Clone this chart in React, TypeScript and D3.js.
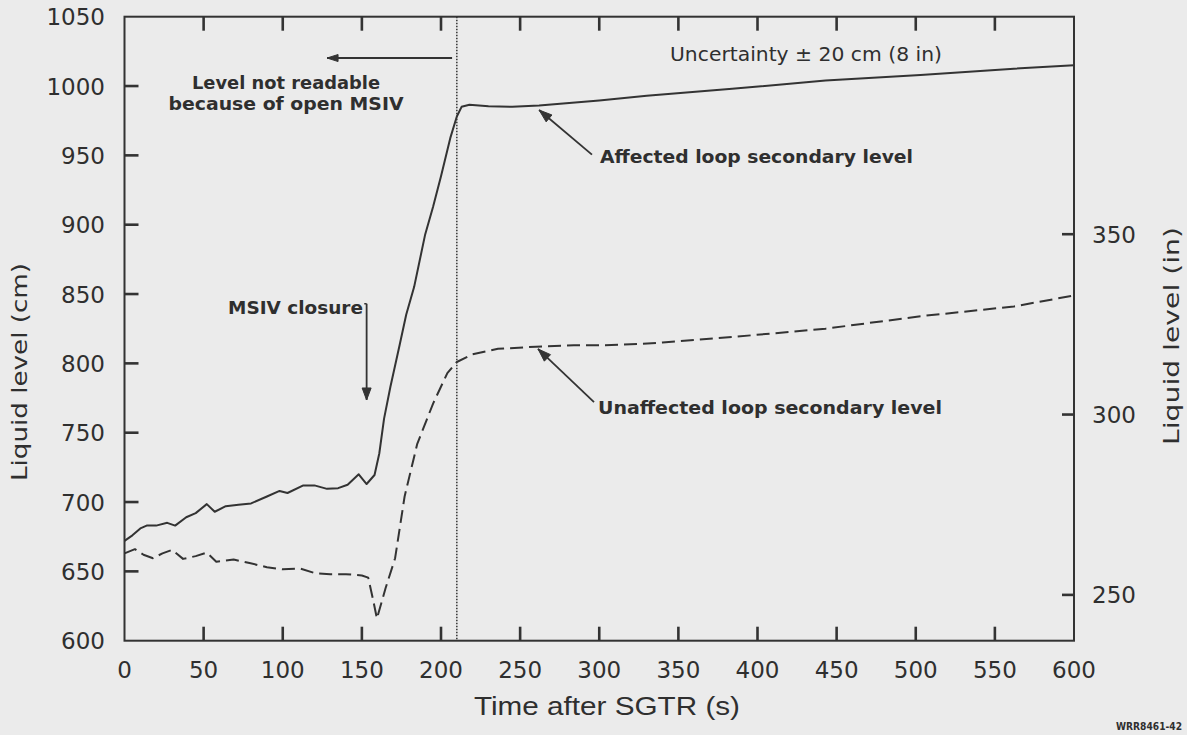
import React from 'react';
import * as d3 from 'd3';

// Time axis (s) and the two level axes
const timeTicks = [0, 50, 100, 150, 200, 250, 300, 350, 400, 450, 500, 550, 600];
const cmTicks = [600, 650, 700, 750, 800, 850, 900, 950, 1000, 1050];
const inchTicks = [250, 300, 350];

// Affected loop secondary level (cm)
const affectedTime = [
  0, 5, 10, 14, 20, 27, 32, 39, 45, 52, 57, 64, 72, 80, 90, 98, 103, 113, 120, 128,
  135, 141, 148, 153, 158, 161, 164, 168, 174, 178, 183, 190, 195, 200, 206, 210, 213,
  218, 230, 245, 262, 300, 330, 384, 443, 503, 562, 600,
];
const affectedLevel = [
  672, 676, 681, 683, 683, 685, 683, 689, 692, 698.5, 693, 697, 698, 699, 704, 708, 706.5, 712, 712, 709.5,
  710, 712.5, 720, 713, 719.5, 735, 760, 783, 814, 835, 855, 893, 913, 935, 963, 978, 985,
  986.5, 985.5, 985, 986, 989.5, 993, 998, 1004, 1008, 1012.5, 1015,
];

// Unaffected loop secondary level (cm)
const unaffectedTime = [
  0, 6.6, 12, 18, 24, 30, 37, 45, 52, 58, 69, 79, 90, 100, 111, 121, 130, 140, 150, 154,
  157, 159.5, 165, 171, 177, 185, 195, 204, 210, 220, 236, 260, 284, 300, 326, 340, 384,
  443, 503, 562, 600,
];
const unaffectedLevel = [
  663, 666, 662, 659.5, 663, 665.5, 659, 661, 663.5, 657, 658.5, 656, 653, 651.5, 652, 648.5, 648, 648, 647, 645.5,
  630, 616, 638, 659.5, 704, 742, 771, 793, 801, 806.5, 810.5, 812, 813, 813, 814, 815, 819,
  825, 834, 841, 849,
];

// Main steam isolation valve open until this time (s)
const msivOpenUntil = 210;

const W = 1187;
const H = 735;
const plotLeft = 124.5;
const plotRight = 1074;
const plotTop = 16.7;
const plotBottom = 640.7;

const ink = '#333333';
const textInk = '#2f2f2f';
const wide = '"DejaVu Sans", Verdana, sans-serif';
const plain = '"Liberation Sans", Arial, Helvetica, sans-serif';

const x = d3.scaleLinear().domain([0, 600]).range([plotLeft, plotRight]);
const y = d3.scaleLinear().domain([600, 1050]).range([plotBottom, plotTop]);
const yIn = d3.scaleLinear().domain([237.3, 410.3]).range([plotBottom, plotTop]);

function arrowHead(x1: number, y1: number, x2: number, y2: number, len = 12, half = 4.5) {
  const a = Math.atan2(y2 - y1, x2 - x1);
  const bx = x2 - len * Math.cos(a);
  const by = y2 - len * Math.sin(a);
  const px = -Math.sin(a) * half;
  const py = Math.cos(a) * half;
  return `M${x2},${y2}L${bx + px},${by + py}L${bx - px},${by - py}Z`;
}

export default function App() {
  const line = d3
    .line<[number, number]>()
    .x((d) => x(d[0]))
    .y((d) => y(d[1]))
    .curve(d3.curveLinear);

  const affected = line(affectedTime.map((t, i) => [t, affectedLevel[i]]) as [number, number][]) || '';
  const unaffected = line(unaffectedTime.map((t, i) => [t, unaffectedLevel[i]]) as [number, number][]) || '';

  const tickLen = 14;
  const tickW = 2.6;
  const innerTimes = timeTicks.slice(1, -1);
  const innerCm = cmTicks.slice(1, -1);

  // annotation arrows in data units: [t, cm] tail -> [t, cm] tip
  const arrows: { from: [number, number]; to: [number, number]; len: number; half: number }[] = [
    { from: [207, 1020.2], to: [128, 1020.2], len: 11, half: 3.5 },
    { from: [295.4, 950.5], to: [262, 982.7], len: 13, half: 4.5 },
    { from: [296.7, 772], to: [261.3, 810.4], len: 13, half: 4.5 },
    { from: [153, 843], to: [153, 773.6], len: 12, half: 4.5 },
  ];

  return (
    <svg
      width={W}
      height={H}
      viewBox={`0 0 ${W} ${H}`}
      style={{ position: 'absolute', left: 0, top: 0, display: 'block' }}
    >
      <rect x={0} y={0} width={W} height={H} fill="#ebebeb" />

      {/* level traces */}
      <path d={affected} fill="none" stroke={ink} strokeWidth={2} strokeLinejoin="round" />
      <path
        d={unaffected}
        fill="none"
        stroke={ink}
        strokeWidth={2}
        strokeDasharray="13,6"
        strokeLinejoin="round"
      />

      {/* end of open-MSIV period */}
      <line
        x1={x(msivOpenUntil)}
        x2={x(msivOpenUntil)}
        y1={plotTop}
        y2={plotBottom}
        stroke={ink}
        strokeWidth={1.5}
        strokeDasharray="1.5,1.5"
      />

      {/* frame */}
      <rect
        x={plotLeft}
        y={plotTop}
        width={plotRight - plotLeft}
        height={plotBottom - plotTop}
        fill="none"
        stroke={ink}
        strokeWidth={2}
      />

      {/* inward tick marks */}
      {innerTimes.map((t) => (
        <line key={`tb${t}`} x1={x(t)} x2={x(t)} y1={plotBottom} y2={plotBottom - tickLen} stroke={ink} strokeWidth={tickW} />
      ))}
      {innerTimes.map((t) => (
        <line key={`tt${t}`} x1={x(t)} x2={x(t)} y1={plotTop} y2={plotTop + tickLen} stroke={ink} strokeWidth={tickW} />
      ))}
      {innerCm.map((v) => (
        <line key={`tc${v}`} x1={plotLeft} x2={plotLeft + tickLen} y1={y(v)} y2={y(v)} stroke={ink} strokeWidth={tickW} />
      ))}
      {inchTicks.map((v) => (
        <line key={`ti${v}`} x1={plotRight} x2={plotRight - 12} y1={yIn(v)} y2={yIn(v)} stroke={ink} strokeWidth={tickW} />
      ))}

      {/* tick labels */}
      <g fontFamily={wide} fontSize={23} fill={textInk}>
        {timeTicks.map((t) => (
          <text key={`tl${t}`} x={x(t)} y={678} textAnchor="middle">
            {t}
          </text>
        ))}
        {cmTicks.map((v) => (
          <text key={`cl${v}`} x={105} y={y(v) + 8.5} textAnchor="end">
            {v}
          </text>
        ))}
        {inchTicks.map((v) => (
          <text key={`il${v}`} x={1092} y={yIn(v) + 8.5}>
            {v}
          </text>
        ))}
      </g>

      {/* axis titles */}
      <text
        x={607}
        y={715}
        textAnchor="middle"
        fontFamily={plain}
        fontSize={26}
        fill={textInk}
        textLength={266}
        lengthAdjust="spacingAndGlyphs"
      >
        Time after SGTR (s)
      </text>
      <text
        transform="translate(27,372) rotate(-90)"
        textAnchor="middle"
        fontFamily={wide}
        fontSize={22}
        fill={textInk}
        textLength={218}
        lengthAdjust="spacingAndGlyphs"
      >
        Liquid level (cm)
      </text>
      <text
        transform="translate(1179,336) rotate(-90)"
        textAnchor="middle"
        fontFamily={wide}
        fontSize={22}
        fill={textInk}
        textLength={218}
        lengthAdjust="spacingAndGlyphs"
      >
        Liquid level (in)
      </text>

      {/* annotation arrows */}
      {arrows.map((a, i) => {
        const x1 = x(a.from[0]);
        const y1 = y(a.from[1]);
        const x2 = x(a.to[0]);
        const y2 = y(a.to[1]);
        return (
          <g key={`ar${i}`}>
            <path d={`M${x1},${y1}L${x2},${y2}`} stroke={ink} strokeWidth={1.8} fill="none" />
            <path d={arrowHead(x1, y1, x2, y2, a.len, a.half)} fill={ink} stroke={ink} strokeWidth={1} />
          </g>
        );
      })}

      {/* annotation labels */}
      <g fontFamily={wide} fontWeight="bold" fontSize={17} fill={textInk}>
        <text x={286} y={89} textAnchor="middle" textLength={188} lengthAdjust="spacingAndGlyphs">
          Level not readable
        </text>
        <text x={286} y={110} textAnchor="middle" textLength={235} lengthAdjust="spacingAndGlyphs">
          because of open MSIV
        </text>
        <text x={228} y={314} textLength={135} lengthAdjust="spacingAndGlyphs">
          MSIV closure
        </text>
        <text x={600} y={163} textLength={313} lengthAdjust="spacingAndGlyphs">
          Affected loop secondary level
        </text>
        <text x={598} y={414} textLength={344} lengthAdjust="spacingAndGlyphs">
          Unaffected loop secondary level
        </text>
      </g>
      <text
        x={806}
        y={61}
        textAnchor="middle"
        fontFamily={wide}
        fontSize={19}
        fill={textInk}
        textLength={272}
        lengthAdjust="spacingAndGlyphs"
      >
        Uncertainty ± 20 cm (8 in)
      </text>

      {/* short connector from label to MSIV arrow */}
      <path d={`M${x(151.5)},${y(843)}H${x(153)}`} stroke={ink} strokeWidth={1.5} fill="none" />

      <text
        x={1116}
        y={730}
        fontFamily={wide}
        fontWeight="bold"
        fontSize={10}
        fill={textInk}
        textLength={66}
        lengthAdjust="spacingAndGlyphs"
      >
        WRR8461-42
      </text>
    </svg>
  );
}
